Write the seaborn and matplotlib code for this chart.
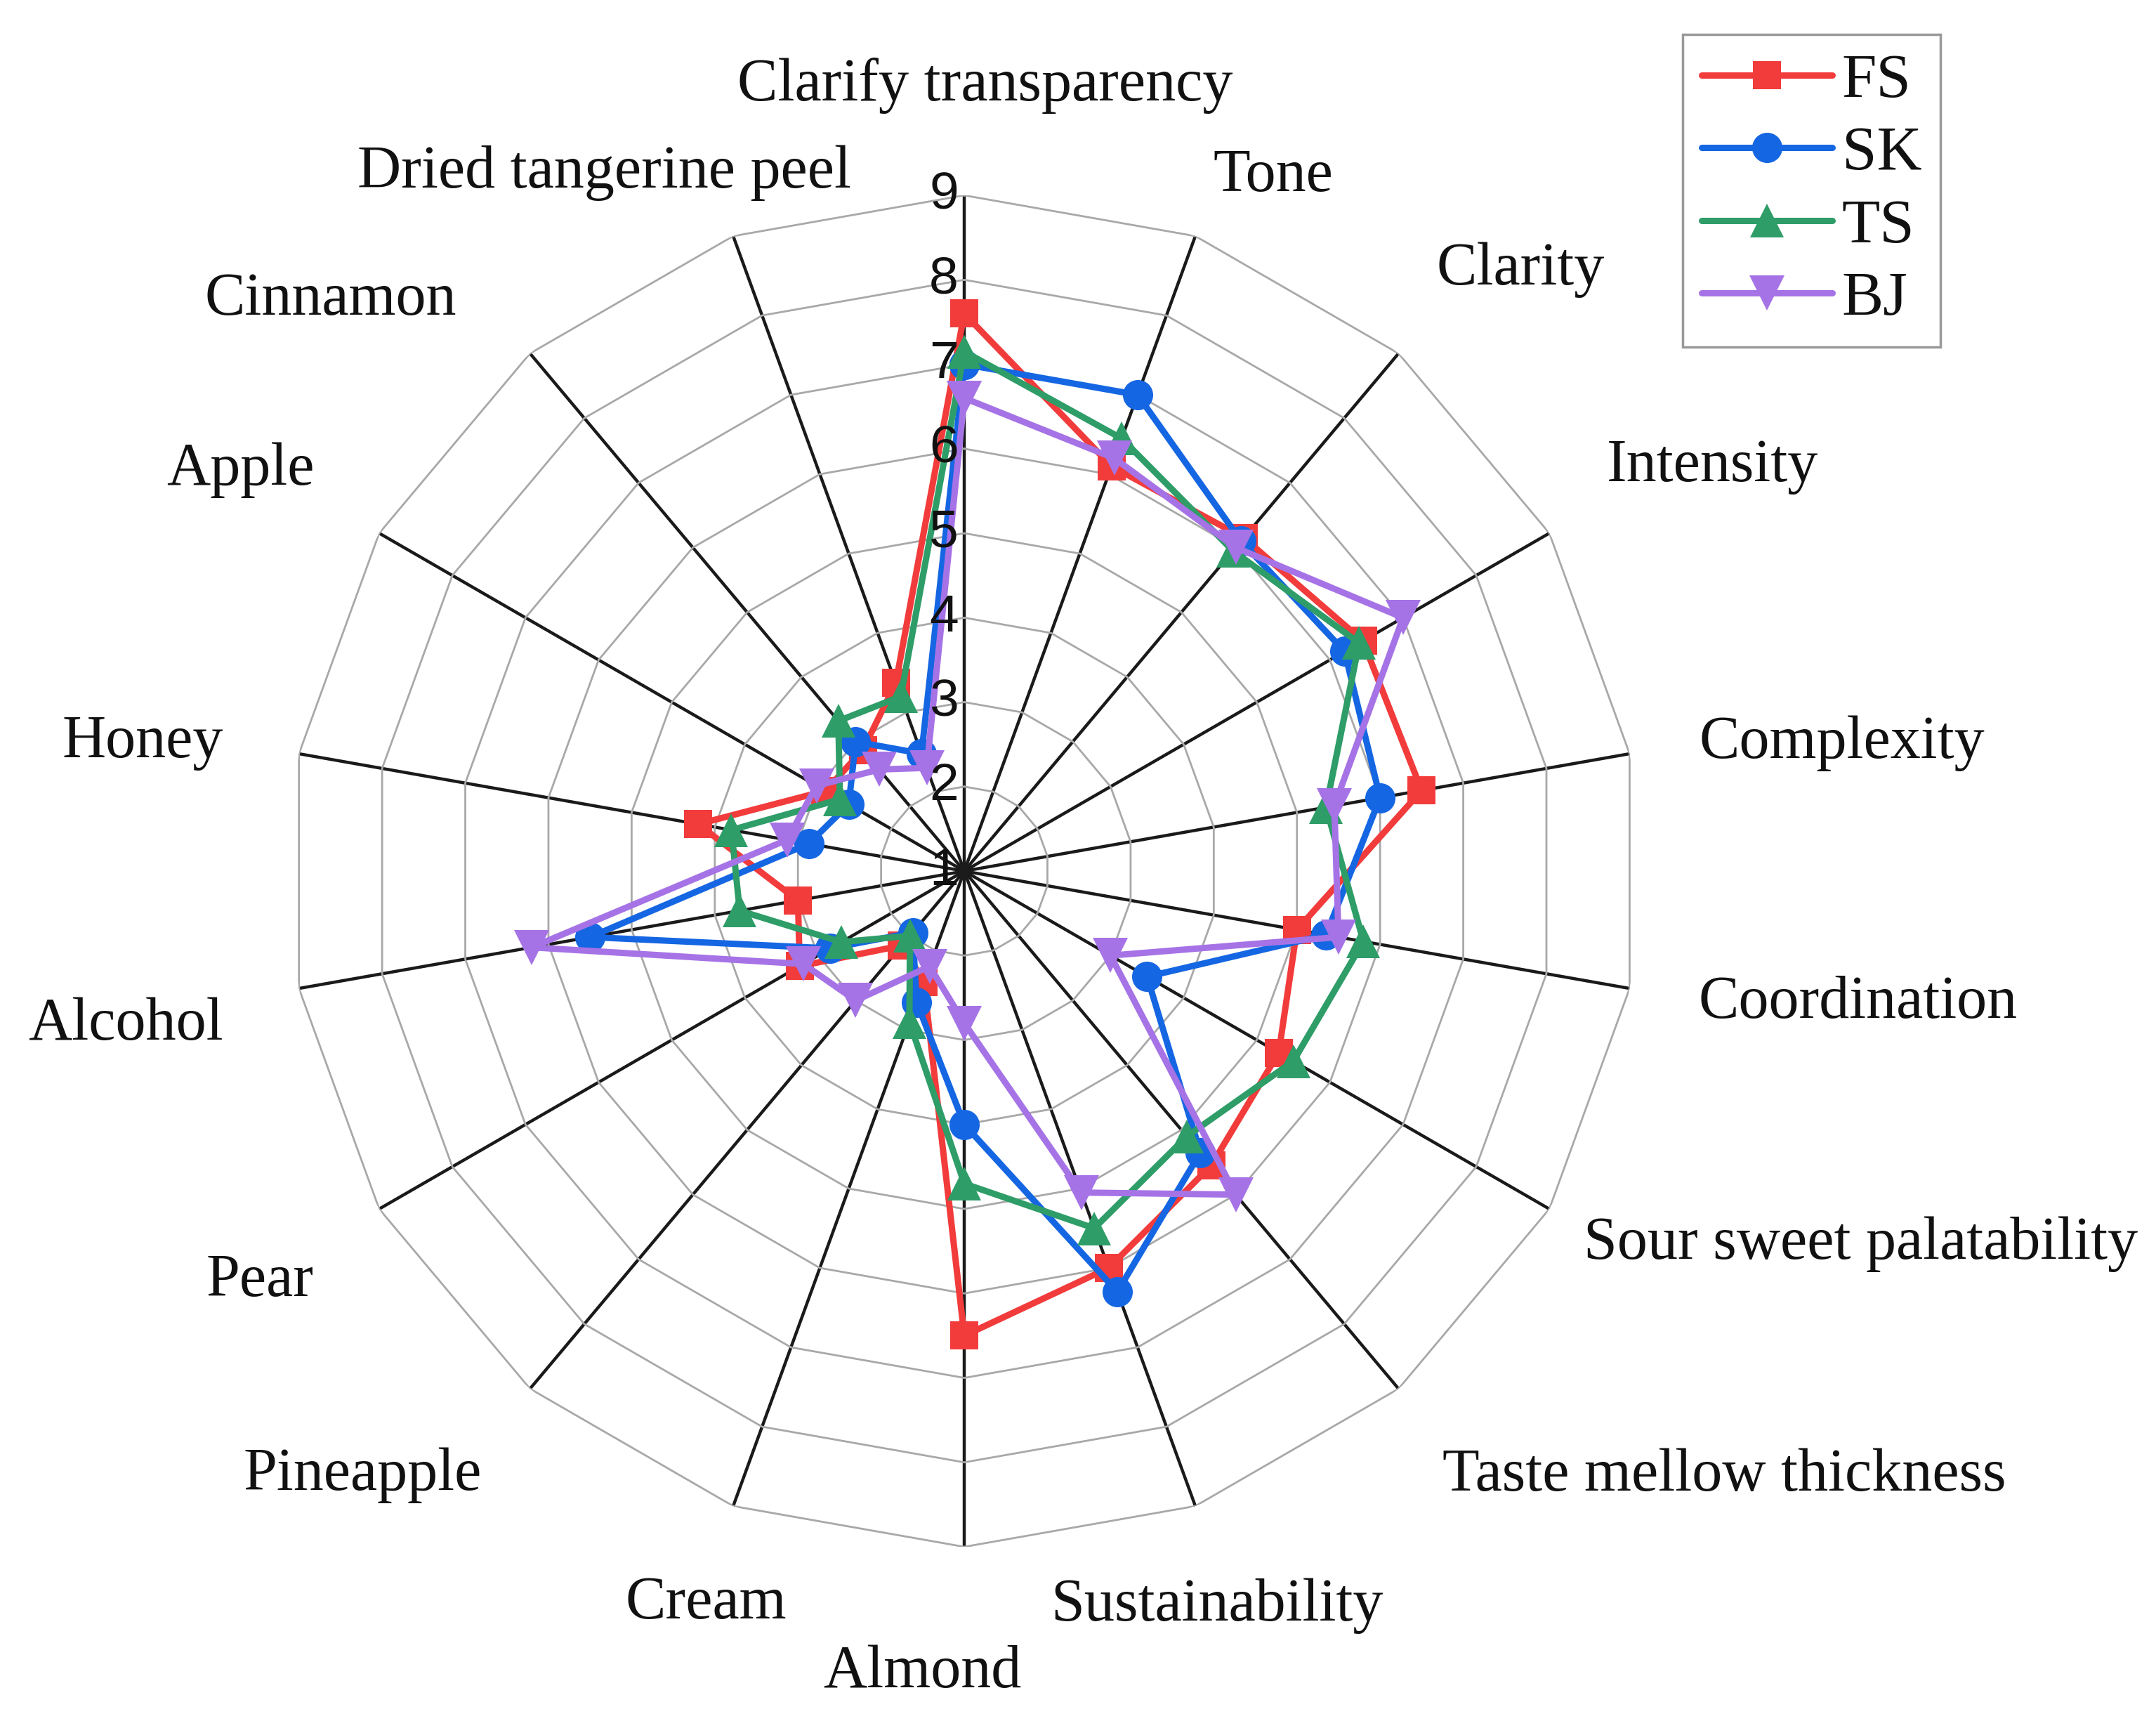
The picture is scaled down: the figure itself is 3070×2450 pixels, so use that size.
import numpy as np
import pandas as pd
import matplotlib
matplotlib.use('Agg')
import matplotlib.pyplot as plt
import seaborn as sns

# attributes, clockwise from the top
attributes = ['Clarify transparency', 'Tone', 'Clarity', 'Intensity', 'Complexity', 'Coordination',
              'Sour sweet palatability', 'Taste mellow thickness', 'Sustainability', 'Almond', 'Cream',
              'Pineapple', 'Pear', 'Alcohol', 'Honey', 'Apple', 'Cinnamon', 'Dried tangerine peel']
samples = ['FS', 'SK', 'TS', 'BJ']
fs_scores = [7.6, 6.1, 6.15, 6.45, 6.5, 5.0, 5.3, 5.55, 6.0, 6.5, 2.4, 2.15, 3.25, 3.0, 4.2, 2.9, 2.87, 3.37]
sk_scores = [7.0, 7.0, 6.1, 6.2, 6.0, 5.35, 3.5, 5.35, 6.3, 4.0, 2.65, 1.95, 2.83, 5.5, 2.87, 2.58, 3.0, 2.48]
ts_scores = [7.15, 6.45, 5.95, 6.4, 5.35, 5.8, 5.5, 5.1, 5.5, 4.7, 2.9, 2.0, 2.68, 3.7, 3.8, 2.7, 3.32, 3.2]
bj_scores = [6.6, 6.2, 6.0, 7.0, 5.45, 5.5, 3.0, 6.0, 5.05, 2.8, 2.2, 3.0, 3.2, 6.2, 3.13, 3.02, 2.57, 2.3]
r_ticks = [1, 2, 3, 4, 5, 6, 7, 8, 9]

# layout of the attribute labels (angle in degrees, radius in score units)
label_angle = [1.5, 24, 42.8, 61.6, 81.7, 98.4, 112.6, 128.5, 161, 183, 199.4, 224.9, 239.8, 259.6, 278.9, 299, 312, 332.7]
label_radius = [10.3, 10.0, 10.7, 11.07, 11.5, 11.7, 12.5, 12.5, 10.2, 10.5, 10.2, 11.1, 10.65, 11.1, 10.85, 10.8, 11.1, 10.3]

colors = {'FS': '#F23B3B', 'SK': '#1566E2', 'TS': '#2E9D68', 'BJ': '#A673E6'}
markers = {'FS': 's', 'SK': 'o', 'TS': '^', 'BJ': 'v'}
msizes = {'FS': 29, 'SK': 31, 'TS': 35, 'BJ': 36}

sns.set_theme(style='white')
plt.rcParams['font.family'] = ['Liberation Serif', 'DejaVu Serif']

n = len(attributes)
theta = np.deg2rad(np.arange(n) * 360.0 / n)
theta_closed = np.append(theta, theta[0] + 2 * np.pi)

fig = plt.figure(figsize=(30.70, 24.50), dpi=100)
ax = fig.add_axes([0.1339, 0.1012, 0.6267, 0.7853], projection='polar')
ax.set_theta_zero_location('N')
ax.set_theta_direction(-1)

# polygon rings (gray) and black spokes
for lev in r_ticks[1:]:
    ax.plot(theta_closed, [lev] * (n + 1), color='#a8a8a8', linewidth=2.0, zorder=1)
ax.set_xticks(theta)
ax.set_xticklabels([])
ax.xaxis.grid(True, color='#1a1a1a', linewidth=3.2, linestyle='-')
ax.yaxis.grid(False)
ax.set_yticks([])
ax.spines['polar'].set_visible(False)
ax.set_ylim(1, 9)

series = {'FS': fs_scores, 'SK': sk_scores, 'TS': ts_scores, 'BJ': bj_scores}
for name in samples:
    vals = np.append(series[name], series[name][0])
    df = pd.DataFrame({'theta': theta_closed, 'score': vals})
    sns.lineplot(data=df, x='theta', y='score', sort=False, estimator=None, ax=ax,
                 color=colors[name], marker=markers[name], markersize=msizes[name],
                 markeredgewidth=0, linewidth=6.5, label=name, zorder=3)
ax.set_xlabel('')
ax.set_ylabel('')

# radial tick labels along the top spoke
for v in r_ticks:
    ax.annotate(str(v), xy=(0, v), xytext=(-6, 0), textcoords='offset points',
                ha='right', va='center', fontsize=54, family='Liberation Sans', color='#111111')

# attribute labels
for lab, ang, rad in zip(attributes, label_angle, label_radius):
    ax.text(np.deg2rad(ang), rad, lab, ha='center', va='center', fontsize=62, color='#111111')

leg = ax.legend(loc='upper left', bbox_to_anchor=(0.7805, 0.98), bbox_transform=fig.transFigure,
                frameon=True, fancybox=False, edgecolor='#808080', fontsize=64,
                handlelength=2.1, handletextpad=0.15, borderpad=0.3, labelspacing=0.25,
                borderaxespad=0)
leg.get_frame().set_linewidth(2.5)
for t in leg.get_texts():
    t.set_color('#111111')

fig.savefig('out.png', dpi=100)
